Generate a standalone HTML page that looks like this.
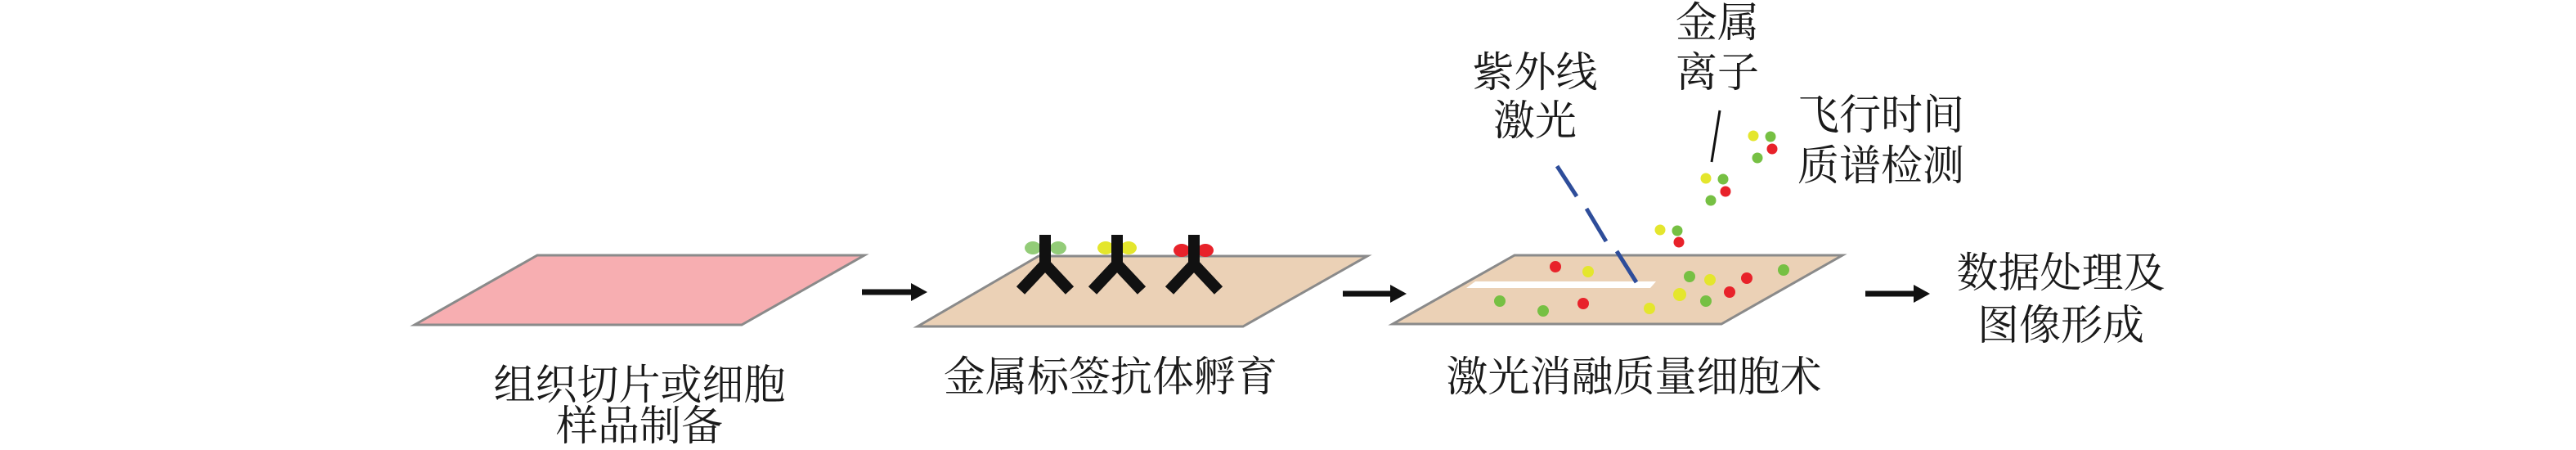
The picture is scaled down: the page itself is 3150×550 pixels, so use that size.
<!DOCTYPE html>
<html><head><meta charset="utf-8"><style>
html,body{margin:0;padding:0;background:#fff;}
svg{display:block;}
text{font-family:"Noto Serif CJK SC","Noto Serif CJK JP","Liberation Serif",serif;font-size:51px;fill:#1a1a1a;}
</style></head><body>
<svg width="3150" height="550" viewBox="0 0 3150 550" xmlns="http://www.w3.org/2000/svg">
<!-- Slide 1 -->
<polygon points="657,312 1057,312 907,397 507,397" fill="#f7aeb1" stroke="#8a8a8a" stroke-width="3"/>
<text x="782" y="488" text-anchor="middle">组织切片或细胞</text>
<text x="782" y="538" text-anchor="middle">样品制备</text>
<!-- Arrow 1 -->
<line x1="1054" y1="357" x2="1118" y2="357" stroke="#111" stroke-width="7"/>
<polygon points="1114,346 1134,357 1114,368" fill="#111"/>
<!-- Slide 2 -->
<polygon points="1270,313 1672,313 1520,399 1122,399" fill="#ebd1b6" stroke="#8a8a8a" stroke-width="3"/>
<g>
<ellipse cx="1263" cy="303" rx="10" ry="8" fill="#93cc78"/><ellipse cx="1294" cy="303" rx="10" ry="8" fill="#93cc78"/>
<ellipse cx="1352" cy="303" rx="10" ry="8" fill="#e4e62d"/><ellipse cx="1380" cy="303" rx="10" ry="8" fill="#e4e62d"/>
<ellipse cx="1445" cy="306" rx="10" ry="8" fill="#e8222a"/><ellipse cx="1474" cy="306" rx="10" ry="8" fill="#e8222a"/>
</g>
<g fill="none" stroke="#111" stroke-width="14" stroke-linecap="butt">
<path d="M1278,287 V323 M1278,323 L1248,355 M1278,323 L1308,355"/>
<path d="M1366,287 V323 M1366,323 L1336,355 M1366,323 L1396,355"/>
<path d="M1460,287 V323 M1460,323 L1430,355 M1460,323 L1490,355"/>
</g>
<text x="1358" y="478" text-anchor="middle">金属标签抗体孵育</text>
<!-- Arrow 2 -->
<line x1="1642" y1="359" x2="1704" y2="359" stroke="#111" stroke-width="7"/>
<polygon points="1700,348 1720,359 1700,370" fill="#111"/>
<!-- Slide 3 -->
<polygon points="1852,312 2253,312 2105,396 1703,396" fill="#ebd1b6" stroke="#8a8a8a" stroke-width="3"/>
<polygon points="1804,344 2025,344 2018,352 1793,352" fill="#fff"/>
<g>
<circle cx="1902" cy="326" r="7" fill="#e8222a"/>
<circle cx="1942" cy="332" r="7" fill="#e4e62d"/>
<circle cx="2066" cy="338" r="7" fill="#76c043"/>
<circle cx="2091" cy="342" r="7" fill="#e4e62d"/>
<circle cx="2136" cy="340" r="7" fill="#e8222a"/>
<circle cx="2181" cy="330" r="7" fill="#76c043"/>
<circle cx="2115" cy="357" r="7" fill="#e8222a"/>
<circle cx="2054" cy="360" r="8" fill="#e4e62d"/>
<circle cx="2086" cy="368" r="7" fill="#76c043"/>
<circle cx="2017" cy="377" r="7" fill="#e4e62d"/>
<circle cx="1936" cy="371" r="7" fill="#e8222a"/>
<circle cx="1887" cy="380" r="7" fill="#76c043"/>
<circle cx="1834" cy="368" r="7" fill="#76c043"/>
<circle cx="2144" cy="166" r="6.5" fill="#e4e62d"/>
<circle cx="2165" cy="167" r="6.5" fill="#76c043"/>
<circle cx="2167" cy="182" r="6.5" fill="#e8222a"/>
<circle cx="2149" cy="193" r="6.5" fill="#76c043"/>
<circle cx="2086" cy="218" r="6.5" fill="#e4e62d"/>
<circle cx="2107" cy="219" r="6.5" fill="#76c043"/>
<circle cx="2110" cy="234" r="6.5" fill="#e8222a"/>
<circle cx="2092" cy="245" r="6.5" fill="#76c043"/>
<circle cx="2030" cy="281" r="6.5" fill="#e4e62d"/>
<circle cx="2051" cy="282" r="6.5" fill="#76c043"/>
<circle cx="2053" cy="296" r="6.5" fill="#e8222a"/>
</g>
<!-- laser -->
<g stroke="#2e4d9a" stroke-width="5">
<line x1="1904" y1="203" x2="1928" y2="240"/>
<line x1="1940" y1="255" x2="1964" y2="295"/>
<line x1="1977" y1="307" x2="2001" y2="345"/>
</g>
<!-- ion pointer -->
<line x1="2103" y1="135" x2="2093" y2="198" stroke="#111" stroke-width="3"/>
<text x="1877" y="106" text-anchor="middle">紫外线</text>
<text x="1877" y="165" text-anchor="middle">激光</text>
<text x="2100" y="45" text-anchor="middle">金属</text>
<text x="2100" y="106" text-anchor="middle">离子</text>
<text x="2300" y="158" text-anchor="middle">飞行时间</text>
<text x="2300" y="220" text-anchor="middle">质谱检测</text>
<text x="1998" y="478" text-anchor="middle">激光消融质量细胞术</text>
<!-- Arrow 3 -->
<line x1="2281" y1="359" x2="2344" y2="359" stroke="#111" stroke-width="7"/>
<polygon points="2340,348 2360,359 2340,370" fill="#111"/>
<text x="2520" y="351" text-anchor="middle">数据处理及</text>
<text x="2520" y="415" text-anchor="middle">图像形成</text>
</svg>
</body></html>
